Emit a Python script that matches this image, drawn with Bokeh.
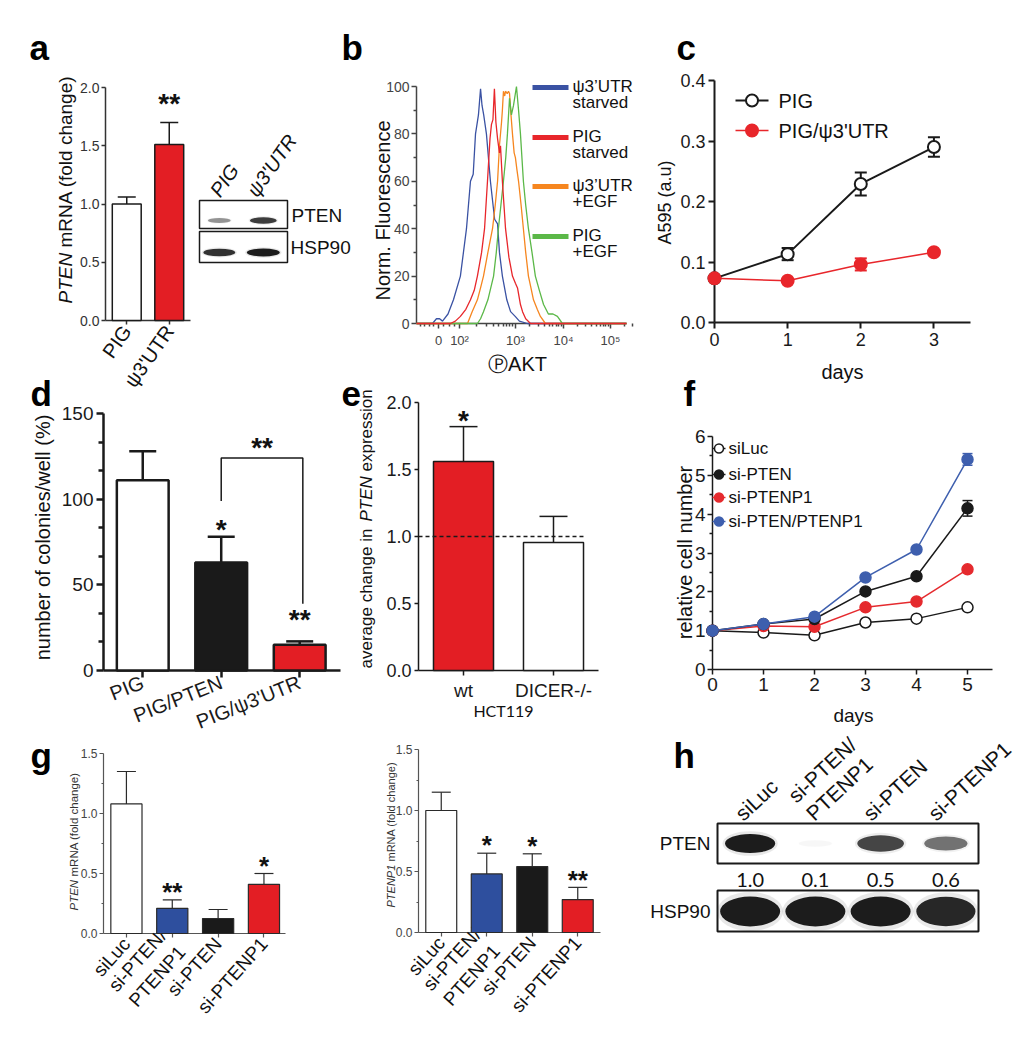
import math
from bokeh.plotting import figure
from bokeh.models import (Range1d, FixedTicker, Label, Whisker, TeeHead, LinearAxis,
                          ColumnDataSource, PrintfTickFormatter)
from bokeh.embed import file_html
from bokeh.resources import INLINE
from bokeh.core.properties import value

# ============================ data ============================
# panel a
a_groups = ["PIG", "ψ3'UTR"]
a_mrna = [1.00, 1.51]
a_mrna_hi = [1.06, 1.70]
a_sig = ["", "**"]
a_blot_rows = ["PTEN", "HSP90"]
a_blot_lanes = ["PIG", "ψ3'UTR"]
a_pten_band = [0.45, 0.85]
a_hsp90_band = [0.9, 1.0]

# panel b (flow histograms, x in display channels 0-1000)
b_names = [("ψ3’UTR", "starved"), ("PIG", "starved"), ("ψ3’UTR", "+EGF"), ("PIG", "+EGF")]
b_blue_x = [0, 76, 95, 110, 124, 150, 176, 209, 238, 257, 270, 281, 295, 305, 312, 320, 333, 352, 372, 386, 395, 409, 430, 448, 470, 490, 528, 1000]
b_blue_y = [0, 0, 2, 2, 1, 4, 10, 20, 40, 60, 63, 80, 88, 99, 92, 88, 80, 60, 44, 42, 30, 20, 10, 5, 3, 1, 0, 0]
b_red_x = [0, 150, 162, 185, 209, 235, 257, 275, 290, 310, 324, 338, 350, 357, 364, 371, 378, 386, 395, 400, 409, 424, 440, 457, 471, 481, 495, 505, 520, 543, 1000]
b_red_y = [0, 0, 0, 1, 3, 6, 10, 14, 20, 30, 40, 60, 78, 84, 86, 99, 85, 78, 72, 75, 60, 40, 28, 20, 17, 15, 8, 5, 2, 0, 0]
b_orange_x = [0, 243, 265, 290, 305, 319, 340, 362, 375, 386, 395, 405, 409, 414, 420, 424, 432, 438, 443, 450, 457, 465, 471, 478, 486, 498, 509, 520, 533, 545, 557, 575, 590, 614, 1000]
b_orange_y = [0, 0, 5, 10, 15, 20, 30, 40, 50, 60, 75, 85, 90, 98, 96, 98, 97, 98, 97, 88, 80, 72, 70, 65, 60, 50, 40, 30, 20, 15, 10, 6, 3, 0, 0]
b_green_x = [0, 290, 305, 319, 340, 367, 380, 390, 402, 414, 425, 433, 443, 452, 462, 476, 486, 495, 509, 520, 533, 550, 566, 585, 605, 628, 650, 671, 695, 1000]
b_green_y = [0, 0, 2, 5, 10, 20, 30, 40, 50, 60, 70, 80, 95, 88, 92, 100, 90, 80, 60, 50, 40, 30, 20, 14, 8, 4, 4, 3, 0, 0]
b_tick_pos = [105, 205, 471, 700, 924]
b_tick_lab = ["0", "10²", "10³", "10⁴", "10⁵"]
b_y_ticks = [0, 20, 40, 60, 80, 100]

# panel c
c_names = ["PIG", "PIG/ψ3'UTR"]
c_days = [0, 1, 2, 3]
c_pig = [0.073, 0.113, 0.229, 0.290]
c_pig_err = [0.003, 0.010, 0.019, 0.016]
c_psi = [0.073, 0.069, 0.096, 0.116]
c_psi_err = [0.003, 0.003, 0.010, 0.004]

# panel d
d_groups = ["PIG", "PIG/PTEN", "PIG/ψ3'UTR"]
d_col = [111, 63, 15]
d_col_hi = [128, 78, 17]
d_sig = ["", "*", "**"]

# panel e
e_groups = ["wt", "DICER-/-"]
e_change = [1.56, 0.955]
e_change_hi = [1.82, 1.15]
e_sig = ["*", ""]
e_cell = "HCT119"

# panel f
f_names = ["siLuc", "si-PTEN", "si-PTENP1", "si-PTEN/PTENP1"]
f_days = [0, 1, 2, 3, 4, 5]
f_siLuc = [1.0, 0.95, 0.88, 1.21, 1.31, 1.60]
f_siPTEN = [1.0, 1.17, 1.30, 2.01, 2.40, 4.15]
f_siPTENP1 = [1.0, 1.12, 1.10, 1.60, 1.75, 2.58]
f_siBoth = [1.0, 1.17, 1.36, 2.37, 3.09, 5.41]
f_siPTEN_err = [0, 0, 0, 0, 0, 0.20]
f_siBoth_err = [0, 0, 0, 0, 0, 0.15]

# panel g
g_groups = ["siLuc", "si-PTEN/\nPTENP1", "si-PTEN", "si-PTENP1"]
g_pten = [1.08, 0.21, 0.125, 0.41]
g_pten_hi = [1.35, 0.28, 0.20, 0.50]
g_pten_sig = ["", "**", "", "*"]
g_ptenp1 = [1.00, 0.48, 0.54, 0.27]
g_ptenp1_hi = [1.15, 0.65, 0.645, 0.37]
g_ptenp1_sig = ["", "*", "*", "**"]

# panel h
h_lanes = [("siLuc",), ("si-PTEN/", "PTENP1"), ("si-PTEN",), ("si-PTENP1",)]
h_rows = ["PTEN", "HSP90"]
h_pten_quant = [1.0, 0.1, 0.5, 0.6]
h_pten_band = [1.0, 0.03, 0.8, 0.6]
h_hsp90_band = [1.0, 1.0, 1.0, 0.95]

# ============================ helpers ============================
W, H, OFF = 1020, 1044, 0
ARIAL = "Liberation Sans"
NARROW = "Liberation Sans Narrow, Liberation Sans, sans-serif"
CAL = "Lato"
INK = "#1a1a1a"
RED = "#e31e24"
BLUE_BAR = "#2e4f9e"
BLUE_B, RED_B, ORANGE_B, GREEN_B = "#3a52a3", "#e8262b", "#f6861f", "#5bb848"
RED_F, BLUE_F = "#e52a2e", "#3e5fae"
STAR_K = 0.16   # asterisk centre height above baseline (em), measured

# one page-sized canvas; default ranges are page pixels
p = figure(width=W, height=H, x_range=Range1d(OFF, OFF + W), y_range=Range1d(OFF + H, OFF),
           min_border=0, min_border_left=0, min_border_right=0, min_border_top=0,
           min_border_bottom=0, x_axis_location=None, y_axis_location=None,
           output_backend="svg", toolbar_location=None, tools="")
p.background_fill_color = None
p.border_fill_color = None
p.outline_line_color = None
p.grid.visible = False
for r in list(p.center):
    r.visible = False


def panel(name, geom):
    """Register ranges so that the panel's data box lands on its page-pixel box."""
    L, T, R, B, xr, yr = geom
    sx = (xr[1] - xr[0]) / (R - L)
    sy = (yr[1] - yr[0]) / (B - T)
    p.extra_x_ranges[name + "_x"] = Range1d(xr[0] - (L - OFF) * sx, xr[0] + (OFF + W - L) * sx)
    p.extra_y_ranges[name + "_y"] = Range1d(yr[0] - (OFF + H - B) * sy, yr[0] + (B - OFF) * sy)
    return dict(x_range_name=name + "_x", y_range_name=name + "_y")


def conv(geom, px, py):
    L, T, R, B, xr, yr = geom
    return (xr[0] + (px - L) * (xr[1] - xr[0]) / (R - L),
            yr[0] + (B - py) * (yr[1] - yr[0]) / (B - T))


def style(ax, font, size, color=INK, lw=1.5, tick_out=5, label_color=None, standoff=3):
    ax.axis_line_color = color
    ax.axis_line_width = lw
    ax.major_tick_line_color = color
    ax.major_tick_line_width = lw
    ax.minor_tick_line_color = color
    ax.minor_tick_line_width = lw
    ax.major_tick_out = tick_out
    ax.major_tick_in = 0
    ax.minor_tick_out = max(2, tick_out - 2)
    ax.minor_tick_in = 0
    ax.major_label_text_font = font
    ax.major_label_text_font_size = size
    ax.major_label_text_color = label_color or color
    ax.major_label_standoff = standoff
    ax.level = "underlay"


def axes(kw, geom):
    L, T, R, B, xr, yr = geom
    yax = LinearAxis(fixed_location=xr[0], bounds=yr, **kw)
    xax = LinearAxis(fixed_location=yr[0], bounds=xr, **kw)
    p.add_layout(yax, "left")
    p.add_layout(xax, "below")
    return xax, yax


def lab(text, x, y, size, font=ARIAL, style="normal", align="left", base="middle",
        angle=0.0, color="#111111"):
    p.add_layout(Label(x=x, y=y, text=text, text_font=font, text_font_size=f"{size}px",
                       text_font_style=style, text_align=align, text_baseline=base,
                       angle=angle, text_color=color))


def bars(kw, vals, his, colors, sigs, width, lw, cap, star_px, gaps, line_color=INK):
    src = ColumnDataSource(dict(x=list(range(len(vals))), top=vals, hi=his, color=colors,
                                sig=sigs, yo=[STAR_K * star_px - g for g in gaps]))
    p.vbar(x="x", top="top", bottom=0, width=width, fill_color="color",
           line_color=line_color, line_width=lw, source=src, **kw)
    p.add_layout(Whisker(source=src, base="x", lower="top", upper="hi", dimension="height",
                         line_color=line_color, line_width=lw,
                         upper_head=TeeHead(size=cap, line_color=line_color, line_width=lw),
                         lower_head=None, **kw))
    p.text(x="x", y="hi", text="sig", source=src, text_align="center",
           text_baseline="alphabetic", y_offset="yo", text_font=value(ARIAL),
           text_font_size=f"{star_px}px", text_font_style="bold", text_color="#111111", **kw)
    return src


def blot_bands(kw, xs, y, inten, wbase, wk, hbase, hk):
    w = [wbase + wk * v for v in inten]
    h = [hbase + hk * v for v in inten]
    p.ellipse(x=xs, y=[y] * len(xs), width=[a * 1.1 for a in w], height=[b * 1.3 for b in h],
              fill_color="#444444", fill_alpha=[0.12 * v for v in inten], line_color=None, **kw)
    p.ellipse(x=xs, y=[y] * len(xs), width=w, height=h,
              fill_color="#0a0a0a", fill_alpha=[0.92 * v for v in inten], line_color=None, **kw)


# ============================ panel letters ============================
for t, x, y in [("a", 29, 47), ("b", 341, 47), ("c", 676, 47), ("d", 30, 393),
                ("e", 341, 393), ("f", 683, 393), ("g", 30, 755), ("h", 673, 755)]:
    lab(t, x, y, 35, style="bold", base="alphabetic", color="#000000")

# ============================ panel a ============================
GA = (105, 87, 190, 320, (-0.5, 1.5), (0.0, 2.0))
ka = panel("a", GA)
bars(ka, a_mrna, a_mrna_hi, ["white", RED], a_sig, width=0.68, lw=1.5, cap=18,
     star_px=28, gaps=[23, 23])
xa, ya = axes(ka, GA)
style(ya, NARROW, "14px", color="#333333", lw=1.5, tick_out=4, standoff=2)
ya.ticker = FixedTicker(ticks=[0, 0.5, 1.0, 1.5, 2.0])
ya.formatter = PrintfTickFormatter(format="%.1f")
style(xa, ARIAL, "20px", color="#333333", lw=1.5, tick_out=4, label_color="#111111")
xa.ticker = FixedTicker(ticks=[0, 1])
xa.major_label_overrides = {i: g for i, g in enumerate(a_groups)}
xa.major_label_orientation = 0.96
lab("PTEN", 65, 303, 19, style="italic", angle=math.pi / 2)
lab("mRNA (fold change)", 65, 247, 19, angle=math.pi / 2)

# blot in a
GAB = (199, 200, 287, 262, (0, 2), (0, 62))
kab = panel("ab", GAB)
p.quad(left=[0, 0], right=[2, 2], bottom=[34, 0], top=[62, 31],
       fill_color=None, line_color=INK, line_width=1.5, **kab)
axl = [i + 0.45 for i in range(len(a_blot_lanes))]
blot_bands(kab, axl, 42, a_pten_band, 0.42, 0.22, 3, 4)
blot_bands(kab, axl, 10, a_hsp90_band, 0.5, 0.25, 4, 4)
lab(a_blot_rows[0], 291, 215, 19)
lab(a_blot_rows[1], 290, 247, 19)
lab(a_blot_lanes[0], 214, 194, 20, style="italic", base="alphabetic", angle=0.96)
lab(a_blot_lanes[1], 251, 194, 20, style="italic", base="alphabetic", angle=0.96)

# ============================ panel b ============================
GB = (416, 86, 626, 323, (0, 1000), (0, 100))
kb = panel("b", GB)
for xs, ys, col in [(b_blue_x, b_blue_y, BLUE_B), (b_orange_x, b_orange_y, ORANGE_B),
                    (b_green_x, b_green_y, GREEN_B), (b_red_x, b_red_y, RED_B)]:
    p.line(xs, ys, line_color=col, line_width=1.3, **kb)
b_minor = [20, 40, 60, 80, 130, 155, 180]
for lo, hi in zip(b_tick_pos[1:], b_tick_pos[2:]):
    b_minor += [lo + math.log10(k) * (hi - lo) for k in range(2, 10)]
b_minor += [b_tick_pos[-1] + math.log10(k) * 224 for k in (2, 3)]
xb, yb = axes(kb, GB)
style(yb, NARROW, "14px", color="#444444", lw=1.5, tick_out=5, standoff=2)
yb.ticker = FixedTicker(ticks=b_y_ticks, minor_ticks=[10, 30, 50, 70, 90])
style(xb, NARROW, "13px", color="#444444", lw=1.5, tick_out=5, standoff=4)
xb.ticker = FixedTicker(ticks=b_tick_pos, minor_ticks=b_minor)
xb.major_label_overrides = dict(zip(b_tick_pos, b_tick_lab))
b_cols = [BLUE_B, RED_B, ORANGE_B, GREEN_B]
for k, yy in enumerate([87, 137, 186, 236]):
    x0, y0 = conv(GB, 532, yy)
    x1, _ = conv(GB, 568, yy)
    p.line([x0, x1], [y0, y0], line_color=b_cols[k], line_width=5, **kb)
    lab(b_names[k][0], 572, yy - 1, 17)
    lab(b_names[k][1], 572, yy + 15, 17)
lab("Norm. Fluorescence", 382, 210, 20, align="center", angle=math.pi / 2)
lab("ⓅAKT", 517, 363, 20, align="center")

# ============================ panel c ============================
GC = (714, 80, 970, 322, (0, 3.5), (0, 0.4))
kc = panel("c", GC)
xc, yc = axes(kc, GC)
style(yc, ARIAL, "18px", color=INK, lw=2, tick_out=6, standoff=3)
yc.ticker = FixedTicker(ticks=[0, 0.1, 0.2, 0.3, 0.4])
yc.formatter = PrintfTickFormatter(format="%.1f")
style(xc, ARIAL, "18px", color=INK, lw=2, tick_out=6, standoff=4)
xc.ticker = FixedTicker(ticks=c_days)
for vals, errs, col, fill, lw in [(c_pig, c_pig_err, INK, "white", 2.0),
                                  (c_psi, c_psi_err, RED_B, RED_B, 1.5)]:
    p.line(c_days, vals, line_color=col, line_width=lw, **kc)
    keep = [i for i, e in enumerate(errs) if e >= 0.008]
    es = ColumnDataSource(dict(x=[c_days[i] for i in keep],
                               lo=[vals[i] - errs[i] for i in keep],
                               hi=[vals[i] + errs[i] for i in keep]))
    p.add_layout(Whisker(source=es, base="x", lower="lo", upper="hi", dimension="height",
                         line_color=col, line_width=2,
                         upper_head=TeeHead(size=12, line_color=col, line_width=2),
                         lower_head=TeeHead(size=12, line_color=col, line_width=2), **kc))
    p.scatter(c_days, vals, size=12, marker="circle", fill_color=fill, line_color=col,
              line_width=2, **kc)
for k, (yy, col, fill, lw) in enumerate([(100, INK, "white", 2.0), (130, RED_B, RED_B, 1.5)]):
    x0, y0 = conv(GC, 735, yy)
    x1, _ = conv(GC, 768, yy)
    xm, _ = conv(GC, 751.5, yy)
    p.line([x0, x1], [y0, y0], line_color=col, line_width=lw, **kc)
    p.scatter([xm], [y0], size=12, marker="circle", fill_color=fill, line_color=col,
              line_width=2, **kc)
    lab(c_names[k], 778, yy, 20)
lab("A595 (a.u)", 664, 202, 18, align="center", angle=math.pi / 2)
lab("days", 842, 371, 20, align="center")

# ============================ panel d ============================
GD = (103, 413, 340, 670, (-0.5, 2.52), (0, 150))
kd = panel("d", GD)
bars(kd, d_col, d_col_hi, ["white", INK, RED], d_sig, width=0.66, lw=2.5, cap=27,
     star_px=28, gaps=[12, 12, 26])
p.line([1, 1, 2.04, 2.04], [99, 124, 124, 39], line_color=INK, line_width=1.5, **kd)
p.text([1.52], [124], ["**"], text_align="center", text_baseline="alphabetic",
       y_offset=STAR_K * 28 - 15, text_font=value(ARIAL), text_font_size="28px",
       text_font_style="bold", text_color="#111111", **kd)
xd, yd = axes(kd, GD)
style(yd, ARIAL, "19px", color=INK, lw=2.5, tick_out=7, standoff=3)
yd.ticker = FixedTicker(ticks=[0, 50, 100, 150],
                        minor_ticks=[16.67, 33.33, 66.67, 83.33, 116.67, 133.33])
style(xd, ARIAL, "20px", color=INK, lw=2.5, tick_out=7, standoff=4)
xd.ticker = FixedTicker(ticks=[0, 1, 2])
xd.major_label_overrides = {i: g for i, g in enumerate(d_groups)}
xd.major_label_orientation = 0.38
lab("number of colonies/well (%)", 42, 537, 20, align="center", angle=math.pi / 2)

# ============================ panel e ============================
GE = (418, 402, 598, 670, (-0.5, 1.5), (0, 2.0))
ke = panel("e", GE)
bars(ke, e_change, e_change_hi, [RED, "white"], e_sig, width=0.667, lw=1.5, cap=28,
     star_px=28, gaps=[11, 11])
p.line([-0.5, 1.333], [1, 1], line_dash="4 3", line_color=INK, line_width=1.5, **ke)
xe, ye = axes(ke, GE)
style(ye, ARIAL, "18px", color=INK, lw=1.5, tick_out=4, standoff=3)
ye.ticker = FixedTicker(ticks=[0, 0.5, 1.0, 1.5, 2.0])
ye.formatter = PrintfTickFormatter(format="%.1f")
style(xe, ARIAL, "19px", color=INK, lw=1.5, tick_out=5, standoff=4)
xe.ticker = FixedTicker(ticks=[0, 1])
xe.major_label_overrides = {i: g for i, g in enumerate(e_groups)}
lab("average change in", 366, 668, 17, angle=math.pi / 2)
lab("PTEN", 366, 521, 17, style="italic", angle=math.pi / 2)
lab("expression", 366, 471, 17, angle=math.pi / 2)
lab(e_cell, 503, 710, 16, font=CAL, align="center")

# ============================ panel f ============================
GF = (712, 436, 992, 669, (0, 5.49), (0, 6))
kf = panel("f", GF)
xf, yf = axes(kf, GF)
style(yf, NARROW, "19px", color=INK, lw=1.5, tick_out=5, standoff=2)
yf.ticker = FixedTicker(ticks=[0, 1, 2, 3, 4, 5, 6],
                        minor_ticks=[0.5, 1.5, 2.5, 3.5, 4.5, 5.5])
style(xf, NARROW, "19px", color=INK, lw=1.5, tick_out=5, standoff=3)
xf.ticker = FixedTicker(ticks=f_days)
f_series = [(f_siLuc, None, INK, "white"), (f_siPTENP1, None, RED_F, RED_F),
            (f_siPTEN, f_siPTEN_err, INK, INK), (f_siBoth, f_siBoth_err, BLUE_F, BLUE_F)]
for vals, errs, col, fill in f_series:
    p.line(f_days, vals, line_color=col, line_width=1.5, **kf)
    if errs:
        keep = [i for i, e in enumerate(errs) if e > 0]
        es = ColumnDataSource(dict(x=[f_days[i] for i in keep],
                                   lo=[vals[i] - errs[i] for i in keep],
                                   hi=[vals[i] + errs[i] for i in keep]))
        p.add_layout(Whisker(source=es, base="x", lower="lo", upper="hi", dimension="height",
                             line_color=col, line_width=1.5,
                             upper_head=TeeHead(size=10, line_color=col, line_width=1.5),
                             lower_head=TeeHead(size=10, line_color=col, line_width=1.5), **kf))
    p.scatter(f_days, vals, size=11, marker="circle", fill_color=fill, line_color=col,
              line_width=1.5, **kf)
f_leg = [(INK, "white"), (INK, INK), (RED_F, RED_F), (BLUE_F, BLUE_F)]
for k, yy in enumerate([448, 474, 497, 521]):
    col, fill = f_leg[k]
    x0, y0 = conv(GF, 712, yy)
    x1, _ = conv(GF, 725, yy)
    xm, _ = conv(GF, 718.5, yy)
    p.line([x0, x1], [y0, y0], line_color=col, line_width=1.5, **kf)
    p.scatter([xm], [y0], size=9, marker="circle", fill_color=fill, line_color=col,
              line_width=1.5, **kf)
    lab(f_names[k], 728, yy, 17)
lab("relative cell number", 684, 552, 20, align="center", angle=math.pi / 2)
lab("days", 853, 715, 19, font=NARROW, align="center")

# ============================ panel g ============================
for name, geom, vals, his, sigs, ital, ylab_pos in [
        ("g1", (103, 753, 285, 933, (-0.5, 3.47), (0, 1.5)), g_pten, g_pten_hi, g_pten_sig,
         ("PTEN", 11.5), (73, 910, 876)),
        ("g2", (418, 749, 600, 932, (-0.5, 3.5), (0, 1.5)), g_ptenp1, g_ptenp1_hi,
         g_ptenp1_sig, ("PTENP1", 11), (390, 907, 861))]:
    kg = panel(name, geom)
    bars(kg, vals, his, ["white", BLUE_BAR, INK, RED], sigs, width=0.68, lw=1.2, cap=19,
         star_px=26, gaps=[12, 12, 12, 12], line_color="#2a2a2a")
    xg, yg = axes(kg, geom)
    style(yg, NARROW, "12px", color="#555555", lw=1.2, tick_out=4,
          label_color="#444444", standoff=2)
    yg.ticker = FixedTicker(ticks=[0, 0.5, 1.0, 1.5], minor_ticks=[0.25, 0.75, 1.25])
    yg.formatter = PrintfTickFormatter(format="%.1f")
    style(xg, ARIAL, "19px", color="#555555", lw=1.2, tick_out=4,
          label_color="#111111", standoff=3)
    xg.ticker = FixedTicker(ticks=[0, 1, 2, 3])
    xg.major_label_overrides = {i: g for i, g in enumerate(g_groups)}
    xg.major_label_orientation = 0.84
    lab(ital[0], ylab_pos[0], ylab_pos[1], ital[1], style="italic", angle=math.pi / 2,
        color="#333333")
    lab("mRNA (fold change)", ylab_pos[0], ylab_pos[2], ital[1], angle=math.pi / 2,
        color="#333333")

# ============================ panel h ============================
GH = (717, 823, 978, 931, (0, 4), (0, 108))
kh = panel("h", GH)
p.quad(left=[0, 0], right=[4, 4], bottom=[68, 0], top=[108, 41],
       fill_color=None, line_color=INK, line_width=2, **kh)
hx = [i + 0.5 for i in range(len(h_lanes))]
blot_bands(kh, hx, 88, h_pten_band, 0.5, 0.27, 6, 13)
blot_bands(kh, hx, 20, h_hsp90_band, 0.66, 0.26, 18, 12)
p.text(x=hx, y=[52] * len(hx), text=[f"{v:.1f}" for v in h_pten_quant],
       text_font=value(CAL), text_font_size="20px", text_align="center",
       text_baseline="middle", text_color="#111111", **kh)
lab(h_rows[0], 710, 843, 19, align="right")
lab(h_rows[1], 710, 911, 19, align="right")
h_anchor = [(738, 816), (791, 798), (866, 816), (931, 816)]
for lanes, (ax0, ay0) in zip(h_lanes, h_anchor):
    lab(lanes[0], ax0, ay0, 21, base="alphabetic", angle=0.75)
    if len(lanes) > 1:
        lab(lanes[1], ax0 + 18, ay0 + 18, 21, base="alphabetic", angle=0.75)

open("out.html", "w").write(file_html(p, INLINE, title="PTENP1 figure"))
